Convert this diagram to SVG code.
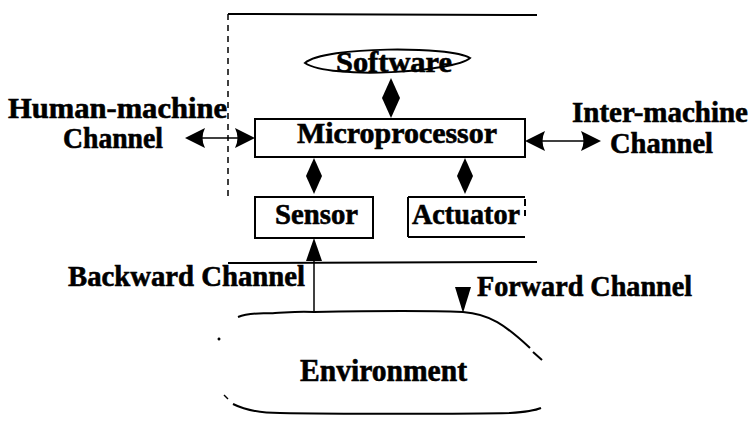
<svg xmlns="http://www.w3.org/2000/svg" width="756" height="424" viewBox="0 0 756 424">
  <style>
    .box { fill: #fff; stroke: #000; stroke-width: 2; }
    .ln { fill: none; stroke: #000; stroke-width: 2; }
    .thin { fill: none; stroke: #000; stroke-width: 1.5; }
    .head { fill: #000; stroke: none; }
  </style>
  <rect width="756" height="424" fill="#fff"/>

  <!-- system boundary -->
  <g id="boundary">
    <path class="ln" d="M228,14 L537,15"/>
    <path class="thin" d="M228,14 L228,196" stroke-dasharray="6,5"/>
    <path class="ln" d="M228,263 L537,262"/>
  </g>

  <!-- connectors -->
  <g id="connectors">
    <!-- software <-> microprocessor -->
    <polygon class="head" points="391,78 400,98 391,118 382,98"/>
    <!-- human-machine channel -->
    <path class="thin" d="M196,138 L244,138"/>
    <path class="head" d="M185,138 L205,128 Q200,138 205,148 Z"/>
    <path class="head" d="M255,138 L235,128 Q240,138 235,148 Z"/>
    <!-- inter-machine channel -->
    <path class="thin" d="M535,141 L590,141"/>
    <path class="head" d="M525,141 L545,131 Q540,141 545,151 Z"/>
    <path class="head" d="M601,141 L581,131 Q586,141 581,151 Z"/>
    <!-- microprocessor <-> sensor -->
    <polygon class="head" points="314,158 322,176 314,194 306,176"/>
    <!-- microprocessor <-> actuator -->
    <polygon class="head" points="465,158 473,176 465,194 457,176"/>
    <!-- backward channel -->
    <path class="thin" d="M314,311 L314,250"/>
    <path class="head" d="M314,238 L322,261 L306,261 Z"/>
    <!-- forward channel -->
    <path class="head" d="M463,313 L455,287 L471,287 Z"/>
  </g>

  <g font-family="Liberation Serif, Times New Roman, serif" font-weight="bold" fill="#000" stroke="#000" stroke-width="0.6" lengthAdjust="spacingAndGlyphs">
    <g id="software">
      <path class="ln" d="M305,63 C325,46 450,46 470,58 C455,72 330,80 305,63 Z"/>
      <text x="336" y="72" font-size="29" textLength="116" lengthAdjust="spacingAndGlyphs">Software</text>
    </g>

    <g id="microprocessor">
      <rect class="box" x="255" y="119" width="270" height="38"/>
      <text x="297" y="143" font-size="29" textLength="200" lengthAdjust="spacingAndGlyphs">Microprocessor</text>
    </g>

    <g id="sensor">
      <rect class="box" x="255" y="197" width="118" height="41"/>
      <text x="275" y="224" font-size="29" textLength="83" lengthAdjust="spacingAndGlyphs">Sensor</text>
    </g>

    <g id="actuator">
      <path class="ln" d="M408,197 L525,197 M408,237 L525,237 M408,197 L408,237 M525,199 L525,206 M525,210 L525,216"/>
      <text x="412" y="224" font-size="29" textLength="108" lengthAdjust="spacingAndGlyphs">Actuator</text>
    </g>

    <g id="environment">
      <path class="ln" d="M238,317 C250,312 262,314 275,313 C292,312 300,311 314,312 C360,311 420,310 463,312 C490,314 505,325 530,348"/>
      <path class="ln" d="M533,352 L542,360"/>
      <circle cx="219" cy="339" r="1.2"/>
      <path class="thin" d="M224,395 L228,399"/>
      <path class="ln" d="M233,404 C245,410 258,413 280,413 C330,414 470,414 510,413 C525,412 534,411 541,408"/>
      <text x="300" y="381" font-size="31" textLength="167" lengthAdjust="spacingAndGlyphs">Environment</text>
    </g>

    <!-- channel labels -->
    <g id="labels">
      <text x="8" y="118" font-size="29" textLength="219" lengthAdjust="spacingAndGlyphs">Human-machine</text>
      <text x="63" y="148" font-size="29" textLength="100" lengthAdjust="spacingAndGlyphs">Channel</text>
      <text x="572" y="122" font-size="29" textLength="176" lengthAdjust="spacingAndGlyphs">Inter-machine</text>
      <text x="610" y="153" font-size="29" textLength="103" lengthAdjust="spacingAndGlyphs">Channel</text>
      <text x="68" y="286" font-size="29" textLength="237" lengthAdjust="spacingAndGlyphs">Backward Channel</text>
      <text x="477" y="296" font-size="29" textLength="215" lengthAdjust="spacingAndGlyphs">Forward Channel</text>
    </g>
  </g>
</svg>
